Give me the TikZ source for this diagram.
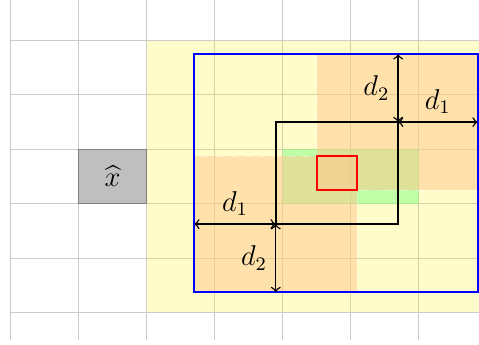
\documentclass[tikz,border=0pt]{standalone}
\usepackage{amsmath, amssymb}
\usetikzlibrary{arrows,positioning,calc}

\begin{document}
\begin{tikzpicture}[x=1cm, y=0.8cm, font=\large,
  zone/.style={fill=orange!45, fill opacity=0.5, draw=white, draw opacity=0.4, dashed},
  measure/.style={<->, semithick}]
  %
  \useasboundingbox (-0.157,-0.589) rectangle (6.89,5.746);
  \clip (-0.157,-0.589) rectangle (6.89,5.746);
  %
  \coordinate (r1) at (4.5,2.25);
  \coordinate (r2) at (5.1,2.875);
  \coordinate (k1) at (3.9,1.625);
  \coordinate (k2) at (5.7,3.5);
  \coordinate (b1) at (2.7,0.375);
  \coordinate (b2) at (6.87,4.75);
  %
  \draw[gray!40, step={(1,1)}] (0,-0.5) grid (7,6);
  \fill[yellow, fill opacity=0.2] (2,0) rectangle (7.5,5);
  \fill[green!50, fill opacity=0.5] (4,2) rectangle (6,3);
  \filldraw[zone] (b1) rectangle (r2);
  \filldraw[zone] (r1) rectangle (b2);
  %
  \node[draw=gray, fill=gray!50, minimum width=1cm, minimum height=0.8cm,
        inner sep=0pt, outer sep=0pt] (xhat) at (1.5,2.5) {$\widehat{x}$};
  %
  \draw[blue, thick] (b1) rectangle (b2);
  \draw[thick] (k1) rectangle (k2);
  \draw[red, thick] (r1) rectangle (r2);
  %
  \draw[measure] (k2 |- b2) -- (k2) node[midway, left] {$d_2$};
  \draw[measure] (k2) -- (k2 -| b2) node[midway, above] {$d_1$};
  \draw[measure] (k1 -| b1) -- (k1) node[midway, above] {$d_1$};
  \draw[measure] (k1) -- (k1 |- b1) node[midway, left] {$d_2$};
  %
\end{tikzpicture}
\end{document}
